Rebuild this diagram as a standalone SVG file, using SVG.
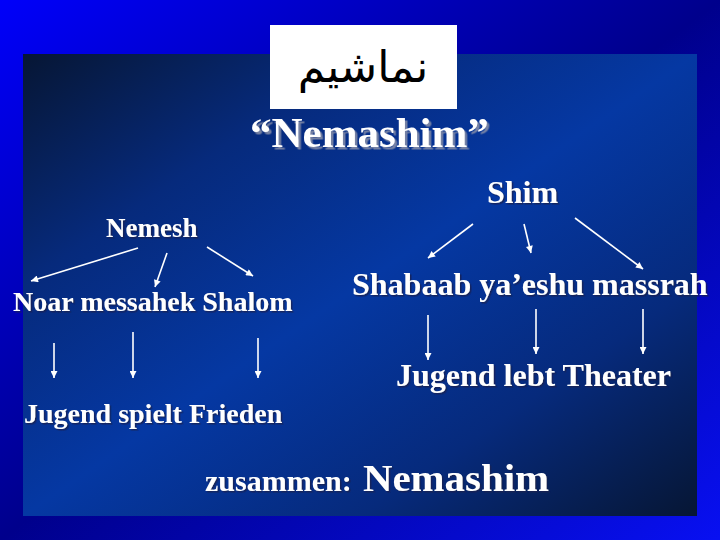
<svg xmlns="http://www.w3.org/2000/svg" width="720" height="540" viewBox="0 0 720 540">
  <defs>
    <linearGradient id="outerGrad" x1="0" y1="0" x2="1" y2="1">
      <stop offset="0" stop-color="#0000FA"/>
      <stop offset="0.5" stop-color="#00008C"/>
      <stop offset="1" stop-color="#0810F2"/>
    </linearGradient>
    <linearGradient id="innerGrad" x1="0" y1="0" x2="1" y2="1">
      <stop offset="0" stop-color="#061634"/>
      <stop offset="0.25" stop-color="#062A7C"/>
      <stop offset="0.5" stop-color="#0538A3"/>
      <stop offset="0.75" stop-color="#062A7C"/>
      <stop offset="1" stop-color="#061634"/>
    </linearGradient>
    <filter id="shadowBig" x="-10%" y="-20%" width="130%" height="160%">
      <feDropShadow dx="2.5" dy="2.5" stdDeviation="0.4" flood-color="#8890A8" flood-opacity="0.85"/>
    </filter>
    <filter id="shadowSmall" x="-10%" y="-20%" width="130%" height="160%">
      <feDropShadow dx="1.5" dy="1.5" stdDeviation="0.3" flood-color="#1A2450" flood-opacity="0.8"/>
    </filter>
    <marker id="arrow" viewBox="0 0 10 10" refX="10" refY="5" markerWidth="9" markerHeight="7" markerUnits="userSpaceOnUse" orient="auto">
      <path d="M0,0 L10,5 L0,10 z" fill="#FFFFFF"/>
    </marker>
    <style>
      .lbl { font-family: "Liberation Serif", "Times New Roman", serif; font-weight: bold; fill: #FFFFFF; filter: url(#shadowSmall); }
      .title { font-family: "Liberation Serif", "Times New Roman", serif; font-weight: bold; fill: #FFFFFF; font-size: 43px; filter: url(#shadowBig); }
      .conn line { stroke: #FFFFFF; stroke-width: 1.6; fill: none; marker-end: url(#arrow); }
      .arabic { font-family: "DejaVu Sans", sans-serif; font-size: 44px; fill: #000000; }
    </style>
  </defs>

  <rect x="0" y="0" width="720" height="540" fill="url(#outerGrad)"/>
  <rect x="23" y="54" width="674" height="462" fill="url(#innerGrad)"/>

  <g id="arabic-box">
    <rect x="270" y="25" width="187" height="84" fill="#FFFFFF"/>
    <text class="arabic" x="363" y="82" text-anchor="middle">نماشيم</text>
  </g>

  <g id="title">
    <text class="title" x="250" y="147">“Nemashim”</text>
  </g>

  <g id="nemesh">
    <text class="lbl" x="106" y="237" font-size="27">Nemesh</text>
  </g>
  <g id="noar">
    <text class="lbl" x="13" y="311" font-size="28">Noar messahek Shalom</text>
  </g>
  <g id="jugend-spielt">
    <text class="lbl" x="24" y="423" font-size="28">Jugend spielt Frieden</text>
  </g>

  <g id="shim">
    <text class="lbl" x="487" y="203" font-size="32">Shim</text>
  </g>
  <g id="shabaab">
    <text class="lbl" x="352" y="295" font-size="32">Shabaab ya’eshu massrah</text>
  </g>
  <g id="jugend-lebt">
    <text class="lbl" x="396" y="386" font-size="32">Jugend lebt Theater</text>
  </g>

  <g id="zusammen">
    <text class="lbl" x="205" y="491" font-size="30">zusammen:</text>
    <text class="lbl" x="363" y="491" font-size="37" textLength="186" lengthAdjust="spacingAndGlyphs">Nemashim</text>
  </g>

  <g id="connectors" class="conn">
    <line x1="138" y1="248" x2="31" y2="281"/>
    <line x1="167" y1="253" x2="155" y2="287"/>
    <line x1="207" y1="247" x2="253" y2="276"/>
    <line x1="54" y1="343" x2="54" y2="378"/>
    <line x1="133" y1="332" x2="133" y2="378"/>
    <line x1="258" y1="338" x2="258" y2="378"/>
    <line x1="473" y1="224" x2="428" y2="258"/>
    <line x1="524" y1="224" x2="531" y2="253"/>
    <line x1="575" y1="218" x2="643" y2="269"/>
    <line x1="428" y1="315" x2="428" y2="360"/>
    <line x1="536" y1="309" x2="536" y2="354"/>
    <line x1="643" y1="309" x2="643" y2="354"/>
  </g>
</svg>
